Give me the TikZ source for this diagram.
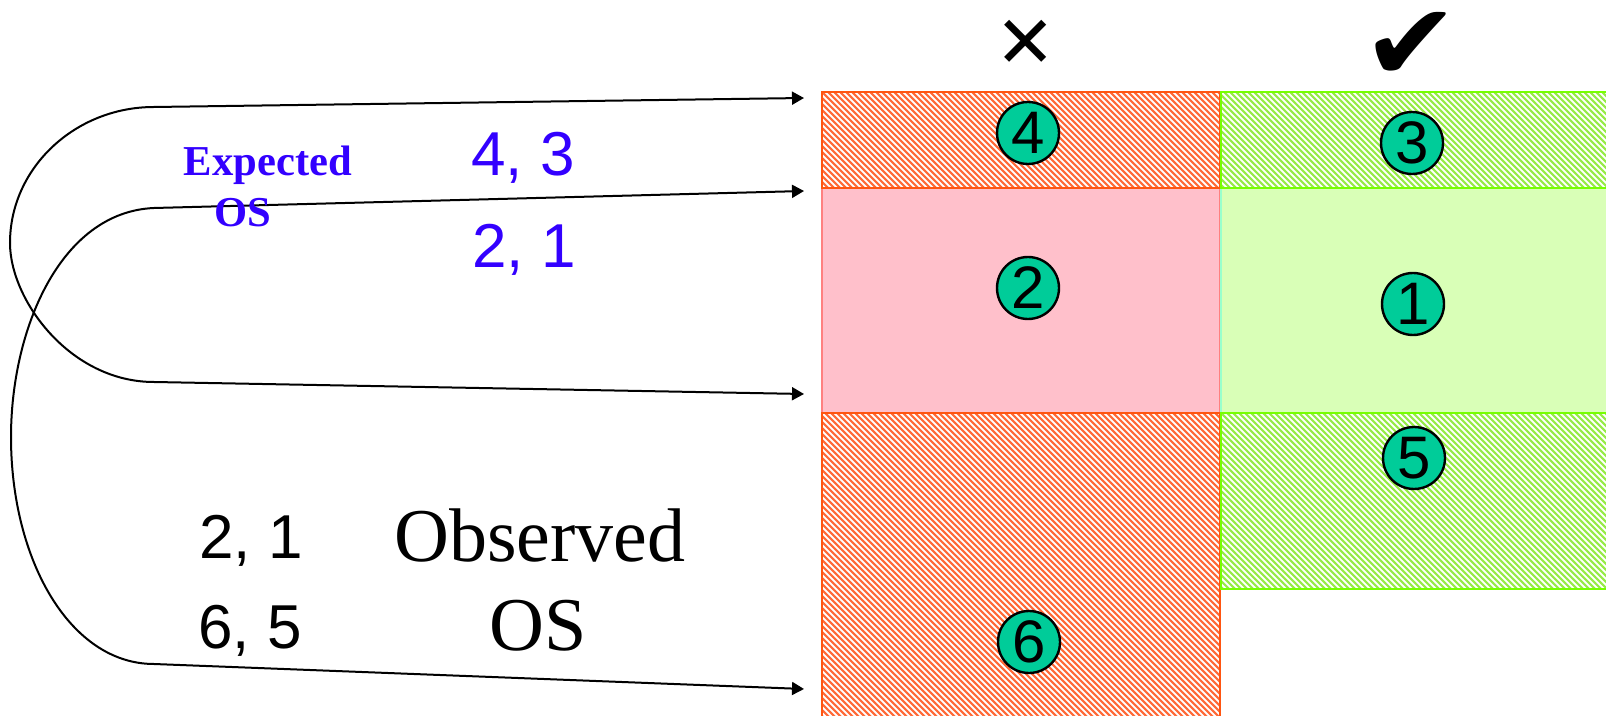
\documentclass[tikz,border=0pt]{standalone}
\usepackage{fontspec}
\setmainfont{Liberation Serif}
\newfontfamily\arialf{Liberation Sans}
\newfontfamily\djv{DejaVu Sans}
\usetikzlibrary{patterns,arrows.meta}
\pgfdeclarepatternformonly{thickhatch}{\pgfqpoint{-1pt}{-1pt}}{\pgfqpoint{4pt}{4pt}}{\pgfqpoint{3pt}{3pt}}{%
  \pgfsetlinewidth{1.05pt}%
  \pgfpathmoveto{\pgfqpoint{0pt}{3pt}}%
  \pgfpathlineto{\pgfqpoint{3.1pt}{-0.1pt}}%
  \pgfusepath{stroke}}
\definecolor{txtblue}{RGB}{51,0,255}
\definecolor{hatchred}{RGB}{255,105,55}
\definecolor{redborder}{RGB}{255,85,17}
\definecolor{hatchgreen}{RGB}{150,235,70}
\definecolor{greenborder}{RGB}{119,255,0}
\definecolor{pinkfill}{RGB}{255,192,203}
\definecolor{pinkborder}{RGB}{255,128,128}
\definecolor{lgfill}{RGB}{217,255,183}
\definecolor{lgborder}{RGB}{153,255,204}
\definecolor{circfill}{RGB}{0,204,153}
\tikzset{
  redhatch/.style={pattern=thickhatch, pattern color=hatchred, draw=redborder, line width=1pt},
  greenhatch/.style={pattern=thickhatch, pattern color=hatchgreen, draw=greenborder, line width=1pt},
  pinkband/.style={fill=pinkfill, draw=pinkborder, line width=1pt},
  greenband/.style={fill=lgfill, draw=lgborder, line width=1pt},
  num/.style={circle, draw=black, line width=1.2pt, fill=circfill, minimum size=31pt, inner sep=0pt, font=\arialf\fontsize{30}{30}\selectfont},
  conn/.style={line width=1pt, {Triangle[length=6pt,width=6.5pt]}-{Triangle[length=6pt,width=6.5pt]}},
  bluebold/.style={inner sep=0pt, text=txtblue, font=\bfseries\fontsize{21.3}{22}\selectfont},
  bluedig/.style={inner sep=0pt, text=txtblue, font=\arialf\fontsize{31}{32}\selectfont},
  blackdig/.style={inner sep=0pt, text=black, font=\arialf\fontsize{31}{32}\selectfont},
  serifbig/.style={inner sep=0pt, text=black, font=\fontsize{38}{40}\selectfont},
  symb/.style={inner sep=0pt, font=\djv\fontsize{36}{36}\selectfont}
}
\begin{document}
\begin{tikzpicture}[x=0.5pt,y=-0.5pt]
\clip (0,0) rectangle (1606,716);
\fill[white] (0,0) rectangle (1606,716);
% bands
\draw[pinkband] (822,188) rectangle (1220,413);
\draw[greenband] (1221,188) rectangle (1620,413);
\fill[white] (822,92) rectangle (1220,188);
\draw[redhatch] (822,92) rectangle (1220,188);
\fill[white] (1221,92) rectangle (1620,188);
\draw[greenhatch] (1221,92) rectangle (1620,188);
\fill[white] (822,413) rectangle (1220,730);
\draw[redhatch] (822,413) rectangle (1220,730);
\fill[white] (1221,413) rectangle (1620,589);
\draw[greenhatch] (1221,413) rectangle (1620,589);
% numbered circles
\node[num] (c4) at (1028,133) {4};
\node[num] (c3) at (1412,143) {3};
\node[num] (c2) at (1028,288) {2};
\node[num] (c1) at (1413,304) {1};
\node[num] (c5) at (1414,458) {5};
\node[num] (c6) at (1029,642) {6};
% marks
\node[symb] (cross) at (1026,44) {✕};
\node[symb, font=\djv\fontsize{40}{40}\selectfont] (check) at (1411,46) {\scalebox{1.45}[1.35]{✔}};
% arrow end points
\coordinate (t1) at (804,98);
\coordinate (b1) at (804,394);
\coordinate (t2) at (804,191);
\coordinate (b2) at (804,689);
\draw[conn] (t1) -- (154,107) .. controls (75,107) and (10,168) .. (10,243) .. controls (10,300) and (70,382) .. (154,382) -- (b1);
\draw[conn] (t2) -- (154,208) .. controls (60,212) and (11,330) .. (11,437) .. controls (11,560) and (70,664) .. (154,664) -- (b2);
% texts
\node[bluebold, anchor=base] (exp) at (268,176) {Expected};
\node[bluebold, anchor=base] (expos) at (243,227) {OS};
\node[bluedig, anchor=base west] (e43) at (471,176) {4, 3};
\node[bluedig, anchor=base west] (e21) at (472,268) {2, 1};
\node[blackdig, anchor=base west] (o21) at (199,558) {2, 1};
\node[blackdig, anchor=base west] (o65) at (198,648) {6, 5};
\node[serifbig, anchor=base] (obs) at (540,561) {Observed};
\node[serifbig, anchor=base] (obsos) at (538,650) {OS};
\end{tikzpicture}
\end{document}
